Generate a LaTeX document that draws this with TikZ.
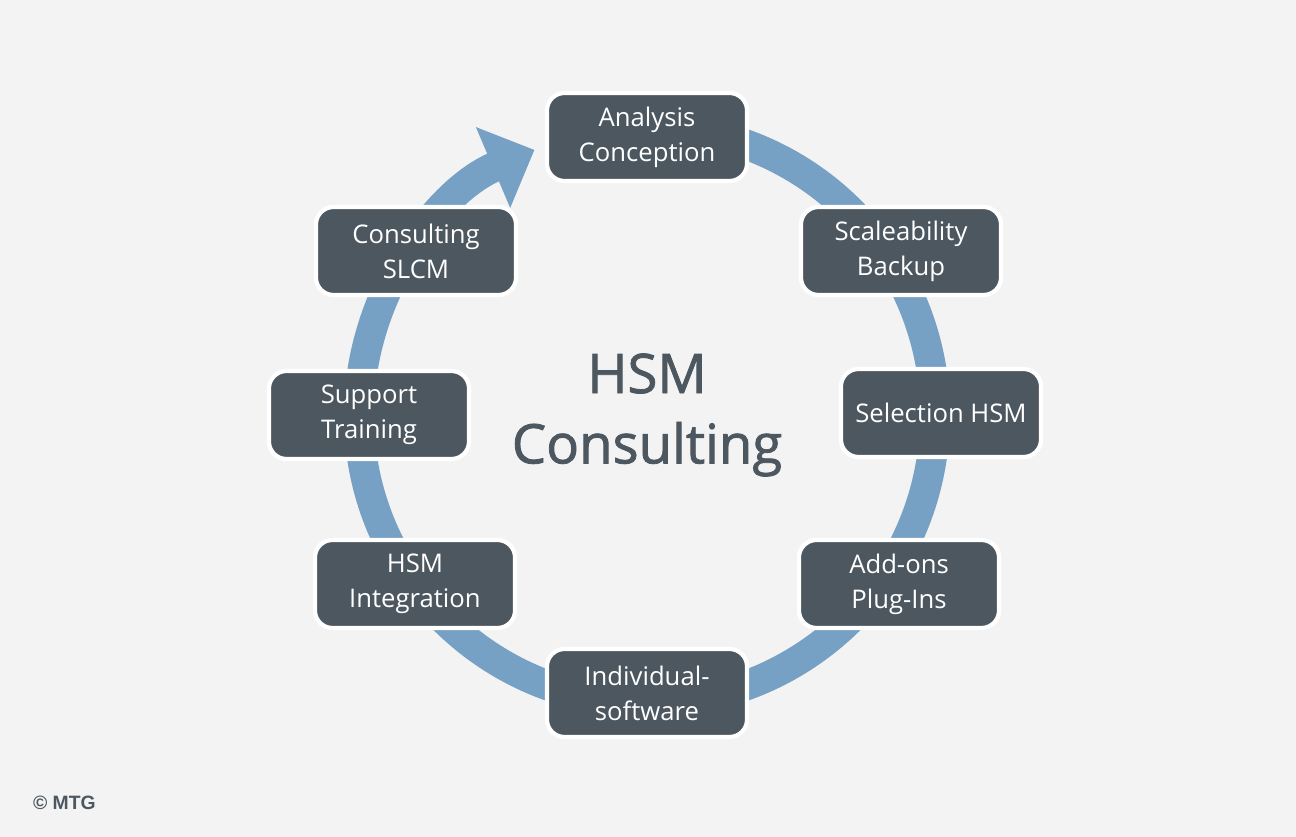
\documentclass[tikz,border=0pt]{standalone}
\usepackage{fontspec}
\setmainfont{Open Sans}
\newfontfamily\titlefont{Open Sans}[BoldFont=Open Sans, BoldFeatures={FakeBold=1.5}]
\newfontfamily\copyfont{Liberation Sans}
\usetikzlibrary{arrows.meta}
\definecolor{bgcol}{HTML}{F3F3F3}
\definecolor{boxcol}{HTML}{4D5760}
\definecolor{ringcol}{HTML}{76A1C4}
\tikzset{every picture/.style={line width=0.75pt}}
\tikzset{
  phase/.style={draw=white, line width=1.2pt, fill=boxcol, rounded corners=5pt,
    minimum width=2cm, minimum height=0.88cm, text=white, align=center,
    font=\fontsize{7.3}{10}\selectfont},
}
\begin{document}
\begin{tikzpicture}[x=0.01cm, y=-0.01cm]
          % background and frame
          \fill[bgcol] (0, 0) rectangle (1296, 837);
          \useasboundingbox (0, 0) rectangle (1296, 837);
          % ring with arrow
          \coordinate (C) at (647, 415);
          \draw[ringcol, line width=0.3cm, -{Triangle[width=0.85cm, length=0.45cm]}]
            ([shift={(-80:288)}]C) arc[start angle=-80, end angle=247, radius=288];
          % phases
          \node[phase](A) at (647, 137){Analysis\\Conception};
          \node[phase](B) at (901, 251){Scaleability\\Backup};
          \node[phase](S) at (941, 413){Selection HSM};
          \node[phase](P) at (899, 584){Add-ons\\Plug-Ins};
          \node[phase](I) at (647, 693){Individual-\\software};
          \node[phase](H) at (415, 584){HSM\\Integration};
          \node[phase](T) at (369, 415){Support\\Training};
          \node[phase](K) at (416, 251){Consulting\\SLCM};
          % title
          \node[text=boxcol, align=center, font=\titlefont\bfseries\fontsize{15.5}{20}\selectfont](title) at (647, 415){HSM\\Consulting};
          \node[text=boxcol, font=\copyfont\bfseries\fontsize{5.5}{6}\selectfont, anchor=west](copy) at (20, 803){© MTG};
        \end{tikzpicture}
\end{document}
